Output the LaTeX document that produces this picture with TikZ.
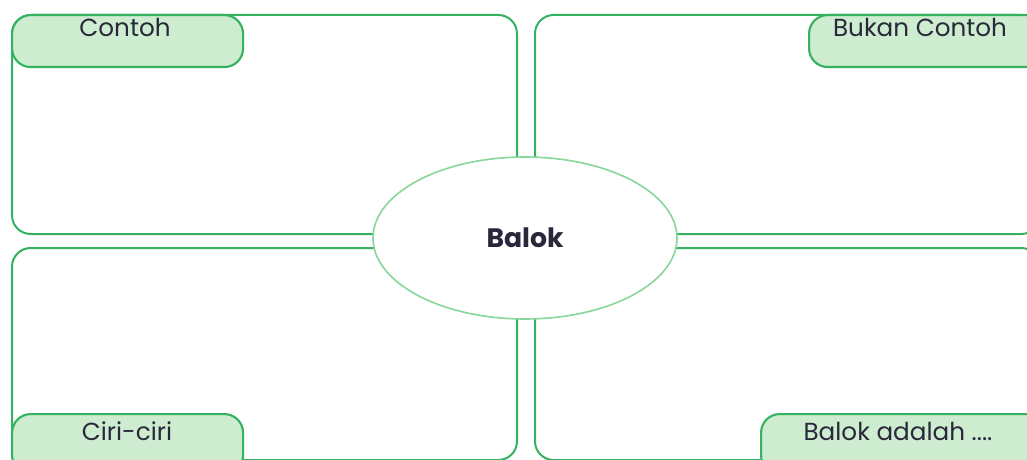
\documentclass[tikz,border=0pt]{standalone}
\usepackage{fontspec}
\setmainfont{Poppins}
\usetikzlibrary{shapes.geometric}

\definecolor{boxgreen}{RGB}{52,178,96}
\definecolor{tabfill}{RGB}{206,236,208}
\definecolor{ovalgreen}{RGB}{135,214,155}
\definecolor{textdark}{RGB}{40,40,58}

\tikzset{
  panel/.style={draw=boxgreen, line width=1.5pt, rounded corners=14pt, inner sep=0pt},
  tabbox/.style={draw=boxgreen, fill=tabfill, line width=1.6pt, rounded corners=14pt, inner sep=0pt},
  tabtext/.style={text=textdark, font=\fontsize{18.5}{20}\selectfont, inner sep=0pt},
  oval/.style={ellipse, draw=ovalgreen, fill=white, line width=1.2pt, inner sep=0pt}
}

\begin{document}
\begin{tikzpicture}[x=0.75pt, y=-0.75pt]

 \useasboundingbox (0,0) rectangle (1027,460);
 \clip (0,0) rectangle (1027,460);

 % four panels
 \node[panel, minimum width=505*0.75pt, minimum height=219*0.75pt, anchor=north west] (contohpanel) at (11,14) {};
 \node[panel, minimum width=505*0.75pt, minimum height=219*0.75pt, anchor=north west] (bukanpanel) at (534,14) {};
 \node[panel, minimum width=505*0.75pt, minimum height=212*0.75pt, anchor=north west] (ciripanel) at (11,247) {};
 \node[panel, minimum width=505*0.75pt, minimum height=212*0.75pt, anchor=north west] (adalahpanel) at (534,247) {};

 % tabs
 \node[tabbox, minimum width=231*0.75pt, minimum height=52*0.75pt, anchor=north west] (contohtab) at (11,14) {};
 \node[tabbox, minimum width=240*0.75pt, minimum height=52*0.75pt, anchor=north west] (bukantab) at (808,14) {};
 \node[tabbox, minimum width=231*0.75pt, minimum height=60*0.75pt, anchor=north west] (ciritab) at (11,413) {};
 \node[tabbox, minimum width=290*0.75pt, minimum height=60*0.75pt, anchor=north west] (adalahtab) at (760,413) {};

 \node[tabtext] (contohlbl) at (125,27) {Contoh};
 \node[tabtext] (bukanlbl) at (920,27) {Bukan Contoh};
 \node[tabtext] (cirilbl) at (127,431) {Ciri-ciri};
 \node[tabtext] (adalahlbl) at (898,431) {Balok adalah ....};

 % centre
 \node[oval, minimum width=304*0.75pt, minimum height=162*0.75pt, text=textdark, font=\bfseries\fontsize{20}{22}\selectfont] (balok) at (525,238) {Balok};

\end{tikzpicture}
\end{document}
